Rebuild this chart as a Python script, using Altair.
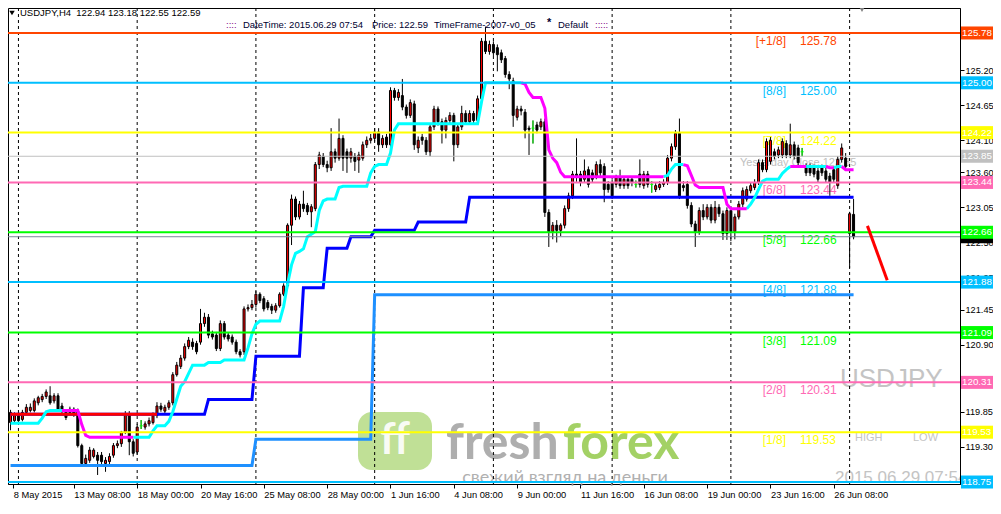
import altair as alt
import pandas as pd

FONT = "Liberation Sans"
W, H = 952, 476

# ---------------- data ----------------
first_bar = -2  # bar index 0 = 11 May 2015 00:00 (H4 bars)

opens = [
    119.68, 119.71, 119.79, 119.73, 119.84, 119.87, 119.87, 119.99, 120.04, 120.09,
    120.10, 120.02, 120.10, 119.94, 119.84, 119.89, 119.89, 119.86, 119.32, 119.04,
    119.09, 119.15, 119.17, 119.17, 119.04, 119.07, 119.17, 119.32, 119.35, 119.53,
    119.81, 119.38, 119.22, 119.63, 119.61, 119.66, 119.68, 119.79, 119.94, 119.86,
    119.92, 119.99, 120.43, 120.56, 120.69, 120.87, 120.94, 120.92, 120.94, 121.23,
    121.33, 121.07, 121.05, 120.84, 121.23, 121.05, 121.02, 120.94, 120.79, 120.79,
    121.46, 121.48, 121.53, 121.69, 121.62, 121.56, 121.50, 121.44, 121.51, 121.69,
    121.82, 122.77, 123.18, 122.90, 123.10, 123.08, 122.98, 123.03, 123.72, 123.85,
    123.72, 123.67, 123.92, 123.82, 124.13, 123.92, 123.82, 123.85, 123.79, 123.82,
    124.03, 124.10, 124.13, 124.23, 124.03, 124.15, 124.03, 124.88, 124.77, 124.80,
    124.62, 124.49, 124.67, 123.98, 124.15, 124.10, 123.92, 124.31, 124.59, 124.39,
    124.26, 124.41, 124.49, 124.03, 124.31, 124.52, 124.39, 124.52, 124.41, 124.75,
    125.65, 125.49, 125.60, 125.55, 125.47, 125.38, 125.13, 125.03, 124.46, 124.59,
    124.54, 124.29, 124.29, 124.34, 124.31, 124.39, 122.97, 122.67, 122.77, 122.69,
    122.77, 123.03, 123.23, 123.57, 123.57, 123.49, 123.64, 123.59, 123.54, 123.72,
    123.69, 123.41, 123.44, 123.41, 123.51, 123.39, 123.49, 123.49, 123.41, 123.57,
    123.39, 123.57, 123.41, 123.33, 123.36, 123.41, 123.44, 123.82, 124.00, 124.21,
    123.39, 123.41, 123.08, 122.79, 122.67, 123.00, 122.90, 123.05, 122.85, 123.05,
    122.95, 122.64, 123.00, 122.67, 122.90, 123.10, 123.18, 123.31, 123.36, 123.44,
    123.75, 123.64, 123.77, 123.92, 123.87, 123.87, 124.05, 123.87, 124.03, 123.98,
    123.92, 123.69, 123.69, 123.67, 123.62, 123.67, 123.62, 123.54, 123.64, 123.39,
    123.80, 123.82, 122.64, 122.94,
]
highs = [
    119.88, 119.84, 119.84, 119.88, 119.97, 119.98, 120.06, 120.10, 120.13, 120.20,
    120.25, 120.14, 120.14, 119.99, 119.88, 119.93, 119.92, 119.90, 119.35, 119.18,
    119.30, 119.28, 119.22, 119.22, 119.14, 119.20, 119.36, 119.40, 119.55, 119.86,
    119.86, 119.42, 119.66, 119.72, 119.70, 119.76, 119.84, 120.00, 119.99, 119.96,
    120.03, 120.47, 120.63, 120.74, 120.92, 121.02, 121.00, 120.96, 121.46, 121.40,
    121.38, 121.12, 121.10, 121.28, 121.27, 121.09, 121.06, 120.98, 120.83, 121.50,
    121.53, 121.60, 121.74, 121.72, 121.66, 121.60, 121.54, 121.55, 121.72, 121.86,
    122.80, 123.25, 123.22, 123.15, 123.31, 123.12, 123.10, 123.76, 123.92, 123.90,
    123.78, 124.29, 123.97, 124.44, 124.18, 123.97, 123.98, 123.90, 123.92, 124.08,
    124.16, 124.20, 124.29, 124.29, 124.18, 124.20, 124.93, 124.92, 124.90, 125.06,
    124.66, 124.74, 124.72, 124.16, 124.20, 124.15, 124.35, 124.64, 124.63, 124.44,
    124.46, 124.54, 124.53, 124.36, 124.64, 124.57, 124.57, 124.56, 124.80, 125.70,
    125.88, 125.66, 125.65, 125.60, 125.52, 125.42, 125.18, 125.08, 124.64, 124.64,
    124.59, 124.33, 124.41, 124.39, 124.44, 124.44, 123.02, 122.82, 122.85, 122.80,
    123.08, 123.28, 123.62, 124.13, 123.62, 123.80, 123.69, 123.64, 123.77, 123.80,
    123.74, 123.46, 123.49, 123.56, 123.64, 123.54, 123.54, 123.52, 123.47, 123.80,
    123.62, 123.62, 123.46, 123.43, 123.46, 123.49, 123.87, 124.05, 124.26, 124.44,
    123.46, 123.46, 123.13, 122.84, 123.05, 123.10, 123.10, 123.10, 123.15, 123.10,
    123.00, 123.05, 123.05, 122.95, 123.15, 123.36, 123.38, 123.44, 123.49, 123.80,
    123.80, 124.13, 124.15, 123.97, 124.00, 124.13, 124.10, 124.36, 124.08, 124.03,
    123.98, 123.74, 123.74, 123.72, 123.67, 123.72, 123.67, 123.59, 123.69, 123.85,
    124.05, 123.90, 122.98, 123.18,
]
lows = [
    119.56, 119.66, 119.66, 119.70, 119.80, 119.84, 119.84, 119.95, 120.00, 120.05,
    119.96, 119.98, 119.86, 119.82, 119.72, 119.80, 119.77, 119.29, 119.00, 119.00,
    119.05, 119.12, 118.86, 119.02, 118.91, 119.03, 119.13, 119.28, 119.30, 119.50,
    119.17, 119.15, 119.18, 119.58, 119.57, 119.62, 119.65, 119.75, 119.85, 119.82,
    119.88, 119.95, 120.40, 120.52, 120.65, 120.83, 120.82, 120.75, 120.90, 121.18,
    121.00, 120.98, 120.80, 120.80, 120.98, 120.95, 120.90, 120.75, 120.70, 120.74,
    121.42, 121.44, 121.48, 121.55, 121.42, 121.44, 121.38, 121.40, 121.48, 121.66,
    121.78, 122.46, 122.85, 122.86, 122.98, 122.93, 122.74, 122.99, 123.65, 123.68,
    123.60, 123.62, 123.75, 123.78, 123.62, 123.59, 123.75, 123.62, 123.59, 123.78,
    123.98, 124.05, 124.08, 123.92, 123.98, 123.98, 123.98, 124.72, 124.72, 124.57,
    124.44, 124.45, 123.95, 123.90, 124.03, 123.87, 123.85, 124.26, 124.33, 124.05,
    124.13, 124.36, 123.77, 123.98, 124.26, 124.34, 124.34, 124.36, 124.36, 124.70,
    125.45, 125.44, 125.42, 125.18, 125.31, 125.08, 124.90, 124.31, 124.41, 124.49,
    124.13, 123.87, 124.05, 124.21, 124.26, 122.90, 122.43, 122.55, 122.50, 122.60,
    122.72, 122.98, 123.18, 123.45, 123.38, 123.44, 123.36, 123.44, 123.49, 123.54,
    123.13, 123.28, 123.18, 123.36, 123.34, 123.34, 123.34, 123.38, 123.36, 123.36,
    123.34, 123.36, 123.28, 123.29, 123.32, 123.37, 123.40, 123.77, 123.95, 123.18,
    123.30, 123.03, 122.74, 122.43, 122.62, 122.85, 122.86, 122.80, 122.80, 122.90,
    122.54, 122.54, 122.52, 122.55, 122.86, 123.05, 123.14, 123.27, 123.32, 123.40,
    123.60, 123.60, 123.72, 123.80, 123.82, 123.82, 123.82, 123.82, 123.80, 123.70,
    123.85, 123.54, 123.54, 123.52, 123.44, 123.54, 123.44, 123.23, 123.44, 123.34,
    123.75, 123.64, 122.10, 122.55,
]
closes = [
    119.84, 119.79, 119.71, 119.84, 119.92, 119.92, 120.02, 120.07, 120.09, 120.16,
    119.99, 120.10, 119.89, 119.86, 119.76, 119.84, 119.81, 119.32, 119.04, 119.12,
    119.25, 119.25, 119.09, 119.07, 119.09, 119.15, 119.32, 119.35, 119.53, 119.81,
    119.38, 119.20, 119.61, 119.63, 119.66, 119.71, 119.79, 119.94, 119.89, 119.92,
    119.99, 120.43, 120.58, 120.69, 120.87, 120.97, 120.87, 120.79, 121.23, 121.33,
    121.05, 121.02, 120.84, 121.23, 121.02, 120.99, 120.94, 120.79, 120.74, 121.46,
    121.48, 121.53, 121.69, 121.59, 121.46, 121.48, 121.44, 121.51, 121.69, 121.82,
    122.77, 123.18, 122.90, 123.10, 123.03, 122.98, 123.06, 123.72, 123.87, 123.72,
    123.67, 123.92, 123.82, 124.13, 123.82, 123.82, 123.92, 123.77, 123.87, 124.03,
    124.10, 124.13, 124.23, 124.03, 124.13, 124.03, 124.88, 124.77, 124.85, 124.62,
    124.49, 124.69, 124.03, 124.10, 124.10, 123.92, 124.31, 124.59, 124.39, 124.26,
    124.41, 124.49, 124.03, 124.31, 124.52, 124.39, 124.52, 124.41, 124.75, 125.65,
    125.49, 125.60, 125.47, 125.44, 125.36, 125.13, 125.06, 124.49, 124.59, 124.56,
    124.26, 124.27, 124.29, 124.26, 124.39, 122.97, 122.67, 122.77, 122.69, 122.77,
    123.03, 123.23, 123.57, 123.52, 123.44, 123.62, 123.41, 123.49, 123.72, 123.59,
    123.33, 123.33, 123.23, 123.51, 123.39, 123.49, 123.39, 123.44, 123.41, 123.41,
    123.57, 123.41, 123.41, 123.39, 123.41, 123.44, 123.82, 124.00, 124.21, 123.23,
    123.36, 123.08, 122.79, 122.67, 123.00, 122.90, 123.05, 122.85, 123.05, 122.95,
    122.64, 123.00, 122.67, 122.90, 123.10, 123.31, 123.33, 123.39, 123.44, 123.75,
    123.64, 124.08, 124.10, 123.85, 123.95, 124.08, 123.87, 124.03, 123.85, 123.75,
    123.92, 123.59, 123.59, 123.57, 123.49, 123.59, 123.49, 123.44, 123.49, 123.80,
    123.98, 123.69, 122.95, 122.59,
]

# step indicator lines as (number of bars, value)
blue_runs = [(50, 119.81), (12, 120.04), (12, 120.72), (6, 121.79), (6, 122.41),
             (6, 122.59), (11, 122.69), (13, 122.82), (98, 123.21)]
dodger_runs = [(62, 119.01), (30, 119.42), (122, 121.68)]
red_runs = [(38, 119.81)]
# two-colour trend line: (number of bars, value, 'c' cyan / 'm' magenta)
trend_runs = [
    (8, 119.67, 'c'), (1, 119.75, 'c'), (1, 119.85, 'c'), (4, 119.87, 'c'),
    (4, 119.87, 'm'), (1, 119.65, 'm'), (1, 119.48, 'm'), (12, 119.45, 'm'),
    (4, 119.45, 'c'), (1, 119.55, 'c'), (3, 119.63, 'c'), (1, 119.70, 'c'), (1, 119.85, 'c'),
    (1, 120.05, 'c'), (1, 120.25, 'c'), (1, 120.32, 'c'), (1, 120.45, 'c'), (4, 120.58, 'c'),
    (4, 120.62, 'c'), (6, 120.66, 'c'), (1, 120.85, 'c'), (1, 121.07, 'c'), (1, 121.22, 'c'),
    (6, 121.27, 'c'), (1, 121.50, 'c'), (1, 121.85, 'c'), (1, 122.15, 'c'), (1, 122.33, 'c'),
    (1, 122.36, 'c'), (1, 122.40, 'c'), (1, 122.59, 'c'), (1, 122.63, 'c'), (1, 122.67, 'c'),
    (1, 123.00, 'c'), (1, 123.15, 'c'), (3, 123.18, 'c'), (1, 123.36, 'c'), (7, 123.38, 'c'),
    (1, 123.59, 'c'), (1, 123.69, 'c'), (3, 123.72, 'c'), (1, 123.90, 'c'), (1, 124.26, 'c'),
    (21, 124.36, 'c'), (1, 124.70, 'c'), (10, 125.00, 'c'),
    (1, 124.98, 'm'), (1, 124.85, 'm'), (3, 124.77, 'm'), (1, 124.60, 'm'), (1, 123.95, 'm'),
    (1, 123.82, 'm'), (1, 123.75, 'm'), (1, 123.60, 'm'), (26, 123.53, 'm'),
    (1, 123.55, 'c'), (1, 123.65, 'c'), (3, 123.72, 'c'),
    (1, 123.70, 'm'), (1, 123.55, 'm'), (1, 123.40, 'm'), (7, 123.36, 'm'), (1, 123.10, 'm'),
    (5, 123.03, 'm'),
    (1, 123.10, 'c'), (1, 123.20, 'c'), (1, 123.33, 'c'), (1, 123.46, 'c'), (4, 123.49, 'c'),
    (1, 123.58, 'c'), (1, 123.64, 'c'), (1, 123.69, 'c'),
    (4, 123.69, 'm'), (5, 123.69, 'c'), (2, 123.67, 'm'), (2, 123.69, 'c'), (3, 123.64, 'm'),
]

levels = [125.78, 125.00, 124.22, 123.44, 122.66, 121.88, 121.09, 120.31, 119.53, 118.75]
level_tags = ['[+1/8]', '[8/8]', '[7/8]', '[6/8]', '[5/8]', '[4/8]', '[3/8]', '[2/8]', '[1/8]', '[0/8]']
yesterday_close = 123.85
bid_price = 122.59

grid_bars = [0, 30, 60, 90, 120, 150, 180, 210]
xtick_bars = [-1.3, 14, 30, 46, 62, 78, 94, 110, 126, 142, 158, 174, 190, 206]
xtick_labels = ['8 May 2015', '13 May 08:00', '18 May 00:00', '20 May 16:00', '25 May 08:00',
                '28 May 00:00', '1 Jun 16:00', '4 Jun 08:00', '9 Jun 00:00', '11 Jun 16:00',
                '16 Jun 08:00', '19 Jun 00:00', '23 Jun 16:00', '26 Jun 08:00']
# scale labels that are not completely covered by the price boxes
ytick_values = [125.20, 124.65, 124.10, 123.60, 123.05, 122.50, 121.95,
                121.45, 120.90, 120.35, 119.85, 119.30]
arrow_bars = [214.5, 219.5]
arrow_prices = [122.76, 121.91]

# ---------------- styles ----------------
LEVEL_COLORS = {'[+1/8]': '#FF4500', '[8/8]': '#00BFFF', '[7/8]': '#FFFF00', '[6/8]': '#FF69B4',
                '[5/8]': '#00FF00', '[4/8]': '#00BFFF', '[3/8]': '#00FF00', '[2/8]': '#FF69B4',
                '[1/8]': '#FFFF00', '[0/8]': '#00BFFF'}
RIGHT = 33  # room right of the plot for the price scale

# ---------------- tables ----------------
n = len(opens)
bars = list(range(first_bar, first_bar + n))
cdf = pd.DataFrame({'i': bars, 'o': opens, 'h': highs, 'l': lows, 'c': closes})
up = cdf[cdf.c > cdf.o]
dn = cdf[cdf.c < cdf.o]
dj = cdf[cdf.c == cdf.o]


def run_frame(runs):
    vals = []
    for cnt, v in runs:
        vals += [v] * cnt
    return pd.DataFrame({'i': bars[:len(vals)], 'v': vals})


blue_df = run_frame(blue_runs)
dodger_df = run_frame(dodger_runs)
red_df = run_frame(red_runs)

rows, seg, prev, k = [], 0, None, 0
for cnt, v, col in trend_runs:
    for _ in range(cnt):
        i = bars[k]
        k += 1
        if prev is not None and prev[2] != col:
            seg += 1
            rows.append({'i': prev[0], 'v': prev[1], 'col': col, 'seg': seg})
        rows.append({'i': i, 'v': v, 'col': col, 'seg': seg})
        prev = (i, v, col)
tdf = pd.DataFrame(rows)

lvl = pd.DataFrame({'p': levels, 'tag': level_tags})
lvl['col'] = lvl.tag.map(LEVEL_COLORS)
lvl['lbl'] = lvl.p.map(lambda v: f"{v:.2f}")
lvl_txt = lvl[lvl.tag != '[0/8]']

boxes = pd.DataFrame({'p': [yesterday_close] + levels,
                      'col': ['#C0C0C0'] + [LEVEL_COLORS[t] for t in level_tags]})
boxes['lbl'] = boxes.p.map(lambda v: f"{v:.2f}")
bid_box = pd.DataFrame({'p': [bid_price], 'col': ['#000000']})

arrow_df = pd.DataFrame({'i': arrow_bars, 'v': arrow_prices})

# ---------------- scales / axes ----------------
xs = alt.Scale(domain=[-1.375, 236.625], nice=False, zero=False)
ys = alt.Scale(domain=[118.719, 126.171], nice=False, zero=False)

label_expr = ""
for b, t in zip(xtick_bars, xtick_labels):
    label_expr += f"datum.value == {b} ? '{t}' : "
label_expr += "''"

xaxis = alt.Axis(orient='bottom', values=xtick_bars, labelExpr=label_expr, title=None,
                 tickSize=4, labelPadding=2, labelAlign='left', labelBaseline='top',
                 labelFontSize=9.3, labelOverlap=False, labelFlush=False, grid=False)
yaxis = alt.Axis(orient='right', values=ytick_values, format='.2f', title=None,
                 tickSize=4, labelPadding=1, labelFontSize=9.2, labelBaseline='middle',
                 labelOverlap=False, labelFlush=False, grid=False)


def X(f='i'):
    return alt.X(f'{f}:Q', scale=xs, axis=xaxis)


def Y(f):
    return alt.Y(f'{f}:Q', scale=ys, axis=yaxis)


dummy = pd.DataFrame({'a': [0]})


def label(text, x, y, size, color, align='left', weight='normal', font=FONT, baseline='middle',
          clip=False, opacity=1.0):
    return alt.Chart(dummy).mark_text(text=text, align=align, baseline=baseline, fontSize=size,
                                      font=font, color=color, fontWeight=weight, clip=clip,
                                      opacity=opacity).encode(x=alt.value(x), y=alt.value(y))


# ---------------- background watermarks ----------------
logo_icon = alt.Chart(dummy).mark_rect(cornerRadius=14, color='#8DC63F', opacity=0.55).encode(
    x=alt.value(350), x2=alt.value(424), y=alt.value(404), y2=alt.value(462))
logo_ff = label('ff', 387, 433, 44, '#FFFFFF', align='center', weight='bold', font='Lato', opacity=0.9)
logo_fresh = label('fresh', 438, 451, 50, '#9A9A9A', weight='bold', font='Lato', baseline='alphabetic',
                   opacity=0.8)
logo_forex = label('forex', 555, 451, 50, '#8DC63F', weight='bold', font='Lato',
                   baseline='alphabetic', opacity=0.8)
logo_sub = label('свежий взгляд на деньги', 557, 470, 18, '#A8A8A8', align='center', font='Lato',
                 opacity=0.9)
wm_sym = label('USDJPY', 832, 371, 26, '#C4C4C4')
wm_high = label('HIGH', 847, 430, 11, '#C4C4C4')
wm_low = label('LOW', 905, 430, 11, '#C4C4C4')
wm_time = label('2015.06.29 07:54', 827, 470, 17, '#C4C4C4', clip=True)

lvl_tag_text = alt.Chart(lvl_txt).mark_text(align='right', baseline='middle', dy=8, fontSize=12,
                                            font=FONT).encode(
    x=alt.value(778), y=Y('p'), text='tag:N', color=alt.Color('col:N', scale=None))
lvl_val_text = alt.Chart(lvl_txt).mark_text(align='left', baseline='middle', dy=8, fontSize=12,
                                            font=FONT).encode(
    x=alt.value(792), y=Y('p'), text='lbl:N', color=alt.Color('col:N', scale=None))
yc_text = alt.Chart(pd.DataFrame({'p': [yesterday_close]})).mark_text(
    align='left', baseline='middle', dy=7, fontSize=11, font=FONT, color='#C0C0C0',
    text=f'Yesterday Close {yesterday_close:.2f}').encode(x=alt.value(732), y=Y('p'))

# ---------------- grid ----------------
grid = alt.Chart(pd.DataFrame({'i': grid_bars})).mark_rule(
    color='black', strokeWidth=1, strokeDash=[3, 3]).encode(x=X())

# ---------------- candles ----------------
wicks = alt.Chart(cdf).mark_rule(color='black', strokeWidth=1).encode(
    x=X(), y=Y('l'), y2='h:Q')
doji_wicks = alt.Chart(dj).mark_rule(color='#00FF00', strokeWidth=1).encode(
    x=X(), y=Y('l'), y2='h:Q')
up_bodies = alt.Chart(up).mark_bar(size=2, fill='#FF0000', stroke='black', strokeWidth=1).encode(
    x=X(), y=Y('o'), y2='c:Q')
dn_bodies = alt.Chart(dn).mark_bar(size=2, fill='black', stroke='black', strokeWidth=1).encode(
    x=X(), y=Y('o'), y2='c:Q')
doji_bodies = alt.Chart(dj).mark_tick(orient='horizontal', size=3, thickness=1, color='#00FF00',
                                      opacity=1).encode(x=X(), y=Y('o'))

# ---------------- indicators ----------------
dodger_line = alt.Chart(dodger_df).mark_line(color='#1E90FF', strokeWidth=3).encode(x=X(), y=Y('v'))
blue_line = alt.Chart(blue_df).mark_line(color='#0000FF', strokeWidth=3).encode(x=X(), y=Y('v'))
red_line = alt.Chart(red_df).mark_line(color='#FF0000', strokeWidth=3).encode(x=X(), y=Y('v'))
cyan_line = alt.Chart(tdf[tdf.col == 'c']).mark_line(color='#00FFFF', strokeWidth=3).encode(
    x=X(), y=Y('v'), detail='seg:N')
mag_line = alt.Chart(tdf[tdf.col == 'm']).mark_line(color='#FF00FF', strokeWidth=3).encode(
    x=X(), y=Y('v'), detail='seg:N')

# ---------------- horizontal levels ----------------
level_lines = alt.Chart(lvl).mark_rule(strokeWidth=2).encode(
    y=Y('p'), color=alt.Color('col:N', scale=None))
yc_line = alt.Chart(pd.DataFrame({'p': [yesterday_close]})).mark_rule(
    color='#C0C0C0', strokeWidth=1).encode(y=Y('p'))
bid_line = alt.Chart(pd.DataFrame({'p': [bid_price]})).mark_rule(
    color='#778899', strokeWidth=1).encode(y=Y('p'))

arrow = alt.Chart(arrow_df).mark_line(color='#FF0000', strokeWidth=3).encode(x=X(), y=Y('v'))


# ---------------- price boxes on the right ----------------
def box_rect(df):
    return alt.Chart(df).mark_tick(orient='horizontal', size=RIGHT - 1, thickness=13, opacity=1).encode(
        x=alt.value(W + 1 + (RIGHT - 1) / 2), y=Y('p'), color=alt.Color('col:N', scale=None))


box_text = alt.Chart(boxes).mark_text(align='left', baseline='middle', fontSize=9.8, font=FONT,
                                      color='white').encode(x=alt.value(W + 2), y=Y('p'), text='lbl:N')

# ---------------- header ----------------
NB = '\u00a0'
hdr_tri = alt.Chart(dummy).mark_point(shape='triangle-down', filled=True, size=30, color='black',
                                      opacity=1).encode(x=alt.value(4), y=alt.value(5))
hdr1 = label(f'USDJPY,H4{NB}{NB}122.94 123.18 122.55 122.59', 12, 5, 9.5, 'black')
hdr_dots1 = label('::::', 218, 17, 9.5, '#800080')
hdr_dt = label('DateTime: 2015.06.29 07:54', 235, 17, 9.5, '#000030')
hdr_pr = label('Price: 122.59', 364, 17, 9.5, '#000030')
hdr_tf = label('TimeFrame-2007-v0_05', 426, 17, 9.5, '#000030')
hdr_star = label('*', 539, 15, 11, '#000030', weight='bold')
hdr_def = label('Default', 550, 17, 9.5, '#000030')
hdr_dots2 = label(':::::', 587, 17, 9.5, '#800080')
shift_tri = alt.Chart(dummy).mark_point(shape='triangle-down', filled=True, size=45, color='#808080',
                                        opacity=1).encode(x=alt.value(854), y=alt.value(1))

chart = alt.layer(
    logo_icon, logo_ff, logo_fresh, logo_forex, logo_sub, wm_sym, wm_high, wm_low, wm_time,
    lvl_tag_text, lvl_val_text, yc_text,
    grid,
    wicks, doji_wicks, up_bodies, dn_bodies, doji_bodies,
    dodger_line, blue_line, red_line, cyan_line, mag_line,
    level_lines, yc_line, bid_line, arrow,
    box_rect(bid_box), box_rect(boxes), box_text,
    hdr_tri, hdr1, hdr_dots1, hdr_dt, hdr_pr, hdr_tf, hdr_star, hdr_def, hdr_dots2, shift_tri,
).properties(
    width=W, height=H,
    autosize=alt.AutoSizeParams(type='none'),
    padding={'left': 0, 'top': 0, 'right': RIGHT, 'bottom': 17},
    background='white',
).configure_view(
    stroke='black', strokeWidth=1
).configure_axis(
    labelFont=FONT, labelColor='black', tickColor='black', domainColor='black',
    domainWidth=1, tickWidth=1
)

chart.save("out.html", embed_options={"renderer": "svg", "actions": False})
